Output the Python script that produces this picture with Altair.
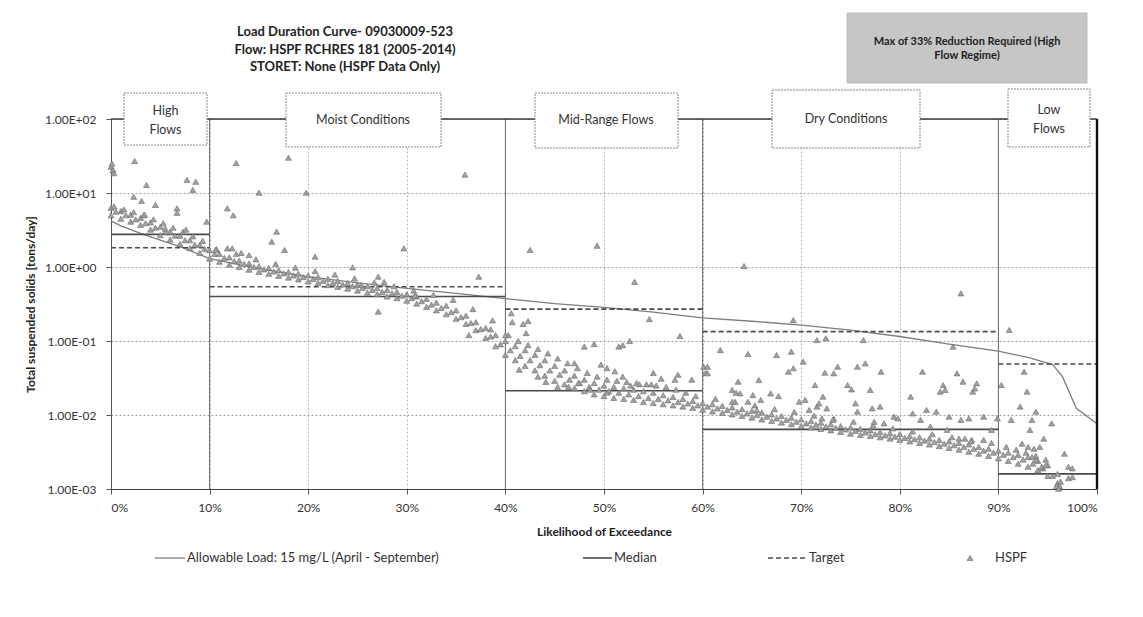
import altair as alt
import pandas as pd

# ---------------- text ----------------
title_lines = ["Load Duration Curve- 09030009-523",
               "Flow: HSPF RCHRES 181 (2005-2014)",
               "STORET: None (HSPF Data Only)"]
note_text = "Max of 33% Reduction Required (High\nFlow Regime)"
regime_names = ["High\nFlows", "Moist Conditions", "Mid-Range Flows", "Dry Conditions", "Low\nFlows"]
legend_labels = ["Allowable Load: 15 mg/L (April - September)", "Median", "Target", "HSPF"]
x_title = "Likelihood of Exceedance"
y_title = "Total suspended solids [tons/day]"

# ---------------- regimes ----------------
regime_start = [0, 10, 40, 60, 90]
regime_end = [10, 40, 60, 90, 100]
median_vals = [2.76, 0.40, 0.0213, 0.0064, 0.0016]
target_vals = [1.82, 0.54, 0.27, 0.134, 0.049]
boundaries = [10, 40, 60, 90]

# ---------------- allowable load curve ----------------
allow_x = [0, 1, 3, 5, 7, 10, 15, 20, 25, 30, 35, 40, 45, 50, 55, 60, 65, 70, 75, 80,
           85, 90, 93, 95.5, 96.5, 97.9, 100]
allow_y = [4.2, 3.6, 2.85, 2.3, 1.88, 1.3, 0.95, 0.74, 0.61, 0.515, 0.44, 0.375, 0.32, 0.285,
           0.245, 0.206, 0.185, 0.164, 0.14, 0.115, 0.091, 0.073, 0.060, 0.048, 0.033, 0.0123, 0.0076]

# ---------------- HSPF: dense band ----------------
band_x = [0, 1, 2, 3, 4, 5, 6, 7, 8, 9,
          10, 11, 12, 13, 14, 15, 16, 17, 18, 19,
          20, 21, 22, 23, 24, 25, 26, 27, 28, 29,
          30, 31, 32, 33, 34, 35, 36, 37, 38, 39,
          40, 41, 42, 43, 44, 45, 46, 47, 48, 49,
          50, 51, 52, 53, 54, 55, 56, 57, 58, 59,
          60, 61, 62, 63, 64, 65, 66, 67, 68, 69,
          70, 71, 72, 73, 74, 75, 76, 77, 78, 79,
          80, 81, 82, 83, 84, 85, 86, 87, 88, 89,
          90, 91, 92, 93, 94, 95, 96]
band_hi = [6.3, 5.7, 5.1, 4.6, 4.0, 3.5, 3.0, 2.65, 2.3, 2.0,
           1.7, 1.5, 1.35, 1.22, 1.12, 1.03, 0.97, 0.91, 0.86, 0.81,
           0.77, 0.73, 0.69, 0.65, 0.61, 0.58, 0.55, 0.52, 0.49, 0.46,
           0.43, 0.40, 0.37, 0.33, 0.30, 0.26, 0.22, 0.18, 0.15, 0.12,
           0.10, 0.085, 0.075, 0.065, 0.055, 0.046, 0.040, 0.034, 0.030, 0.027,
           0.025, 0.024, 0.023, 0.022, 0.021, 0.020, 0.0185, 0.0175, 0.0165, 0.0155,
           0.0145, 0.014, 0.0133, 0.0127, 0.012, 0.0114, 0.0108, 0.0102, 0.0097, 0.0092,
           0.0087, 0.0083, 0.0079, 0.0075, 0.0071, 0.0068, 0.0065, 0.0062, 0.0059, 0.0057,
           0.0055, 0.0052, 0.0050, 0.0048, 0.0046, 0.0044, 0.0042, 0.0040, 0.0037, 0.0035,
           0.0033, 0.0031, 0.0029, 0.0027, 0.0024, 0.0021, 0.0016]
band_lo = [5.0, 4.5, 4.1, 3.7, 3.2, 2.7, 2.35, 2.05, 1.8, 1.55,
           1.3, 1.18, 1.08, 1.0, 0.92, 0.86, 0.81, 0.76, 0.72, 0.68,
           0.64, 0.61, 0.57, 0.54, 0.51, 0.48, 0.45, 0.43, 0.40, 0.38,
           0.35, 0.32, 0.29, 0.26, 0.23, 0.20, 0.17, 0.14, 0.11, 0.085,
           0.065, 0.055, 0.046, 0.040, 0.034, 0.029, 0.026, 0.023, 0.021, 0.019,
           0.018, 0.017, 0.0165, 0.016, 0.015, 0.0145, 0.014, 0.0135, 0.013, 0.0125,
           0.0118, 0.0112, 0.0107, 0.0102, 0.0097, 0.0092, 0.0087, 0.0083, 0.0079, 0.0075,
           0.0071, 0.0068, 0.0065, 0.0062, 0.0059, 0.0056, 0.0054, 0.0052, 0.0050, 0.0048,
           0.0046, 0.0044, 0.0042, 0.0040, 0.0038, 0.0036, 0.0034, 0.0032, 0.0030, 0.0028,
           0.0026, 0.0024, 0.0022, 0.0020, 0.0018, 0.0015, 0.0012]
band_mid_x = [0.5, 1.5, 2.5, 3.5, 4.5, 5.5, 6.5, 7.5, 8.5, 9.5,
              10.5, 11.5, 12.5, 13.5, 14.5, 15.5, 16.5, 17.5, 18.5, 19.5,
              20.5, 21.5, 22.5, 23.5, 24.5, 25.5, 26.5, 27.5, 28.5, 29.5,
              30.5, 31.5, 32.5, 33.5, 34.5, 35.5, 36.5, 37.5, 38.5, 39.5,
              40.5, 41.5, 42.5, 43.5, 44.5, 45.5, 46.5, 47.5, 48.5, 49.5,
              50.5, 51.5, 52.5, 53.5, 54.5, 55.5, 56.5, 57.5, 58.5, 59.5,
              60.5, 61.5, 62.5, 63.5, 64.5, 65.5, 66.5, 67.5, 68.5, 69.5,
              70.5, 71.5, 72.5, 73.5, 74.5, 75.5, 76.5, 77.5, 78.5, 79.5,
              80.5, 81.5, 82.5, 83.5, 84.5, 85.5, 86.5, 87.5, 88.5, 89.5,
              90.5, 91.5, 92.5, 93.5, 94.5, 95.5, 96.2]
band_mid = [5.6, 5.0, 4.4, 3.9, 3.4, 3.0, 2.65, 2.3, 2.0, 1.75,
            1.5, 1.33, 1.2, 1.1, 1.0, 0.93, 0.87, 0.82, 0.77, 0.73,
            0.69, 0.65, 0.61, 0.58, 0.55, 0.52, 0.49, 0.46, 0.44, 0.41,
            0.38, 0.345, 0.31, 0.28, 0.245, 0.21, 0.175, 0.145, 0.115, 0.09,
            0.075, 0.063, 0.055, 0.047, 0.040, 0.035, 0.030, 0.027, 0.024, 0.022,
            0.021, 0.020, 0.019, 0.018, 0.017, 0.0165, 0.0158, 0.015, 0.0143, 0.0135,
            0.013, 0.0123, 0.0117, 0.0111, 0.0105, 0.010, 0.0095, 0.009, 0.0086, 0.0081,
            0.0077, 0.0074, 0.007, 0.0067, 0.0064, 0.0061, 0.0058, 0.0055, 0.0053, 0.0051,
            0.0049, 0.0047, 0.0045, 0.0043, 0.0041, 0.0039, 0.0037, 0.0035, 0.0033, 0.0031,
            0.0029, 0.0027, 0.0025, 0.0022, 0.0019, 0.0015, 0.0011]
# second, looser row of days hugging the upper edge of the band
band_up_x = [0.3, 1.3, 2.3, 3.3, 4.3, 5.3, 6.3, 7.3, 8.3, 9.3,
             10.7, 12.7, 14.7, 16.7, 18.7, 20.7, 22.7, 24.7, 26.7, 28.7,
             30.7, 32.7, 34.7, 36.7, 38.7, 40.3, 41.3, 42.3, 43.3, 44.3,
             45.3, 46.3, 47.3, 48.3, 49.3, 50.3, 51.3, 52.3, 53.3, 54.3,
             55.3, 56.3, 57.3, 58.3, 59.3, 61.3, 63.3, 65.3, 67.3, 69.3,
             71.3, 73.3, 75.3, 77.3, 79.3, 81.3, 83.3, 85.3, 87.3, 89.3,
             90.8, 91.8, 92.8, 93.8, 94.8]
band_up = [6.6, 6.0, 5.5, 5.0, 4.4, 3.9, 3.4, 3.0, 2.6, 2.25,
           1.75, 1.5, 1.27, 1.1, 0.98, 0.88, 0.79, 0.7, 0.62, 0.55,
           0.48, 0.42, 0.36, 0.27, 0.19, 0.12, 0.1, 0.088, 0.078, 0.068,
           0.058, 0.05, 0.043, 0.037, 0.033, 0.03, 0.029, 0.028, 0.027, 0.026,
           0.025, 0.024, 0.022, 0.02, 0.018, 0.0165, 0.015, 0.0135, 0.012, 0.011,
           0.0098, 0.0089, 0.0081, 0.0073, 0.0066, 0.006, 0.0055, 0.005, 0.0046, 0.0042,
           0.0037, 0.0034, 0.0031, 0.0028, 0.0025]

# ---------------- HSPF: scattered days ----------------
high_x = [0.0, 0.1, 0.2, 0.3, 2.4, 3.6, 2.3, 3.1, 4.5, 3.4, 6.7, 6.7, 7.7, 8.6, 8.3, 9.7, 5.5, 7.6]
high_y = [22.7, 25.0, 20.5, 18.5, 27.0, 12.8, 8.9, 7.8, 6.9, 5.1, 6.2, 5.4, 15.0, 14.2, 11.0, 4.1, 3.3, 3.2]

moist_x = [12.7, 18.0, 35.9, 11.8, 12.4, 15.0, 19.8, 16.8, 16.3, 17.6, 20.7, 24.5, 27.1, 27.7,
           29.7, 37.3, 25.4, 30.8, 27.1, 38.5, 36.3, 11.8, 12.3, 10.6, 13.2, 14.0]
moist_y = [25.4, 30.0, 17.7, 6.2, 5.0, 10.1, 10.1, 3.0, 2.2, 1.7, 1.38, 0.99, 0.74, 0.63,
           1.79, 0.74, 0.57, 0.41, 0.25, 0.144, 0.12, 1.79, 1.79, 1.7, 1.55, 1.45]

mid_x = [40.0, 40.6, 40.7, 41.8, 42.3, 42.1, 42.5, 49.3, 53.1, 54.6, 57.7, 48.0, 49.0, 47.0,
         49.7, 50.3, 51.1, 51.9, 51.5, 51.9, 52.6, 55.0, 55.8, 57.5, 58.9, 60.1, 60.3, 41.4,
         43.3, 44.1, 45.3, 46.4, 47.4, 48.6, 50.3, 52.7, 53.6, 54.8, 57.2]
mid_y = [0.120, 0.237, 0.18, 0.17, 0.186, 0.128, 1.70, 1.94, 0.63, 0.198, 0.117, 0.084, 0.091, 0.050,
         0.048, 0.043, 0.039, 0.033, 0.084, 0.088, 0.10, 0.037, 0.031, 0.035, 0.030, 0.045, 0.037, 0.041,
         0.033, 0.028, 0.024, 0.024, 0.027, 0.022, 0.020, 0.025, 0.026, 0.026, 0.030]

dry_x = [61.8, 60.5, 60.5, 63.6, 64.6, 63.0, 63.4, 63.8, 65.1, 65.7, 65.9, 64.6, 63.0, 65.5,
         66.9, 67.7, 67.5, 69.0, 68.7, 69.2, 70.2, 69.8, 70.4, 70.8, 71.4, 71.6, 71.8, 72.2,
         72.6, 72.1, 73.2, 72.4, 73.3, 73.7, 71.6, 72.5, 69.2, 64.2, 74.7, 75.1, 75.7, 76.5,
         77.0, 75.5, 75.7, 77.2, 78.0, 78.1, 76.3, 77.4, 78.4, 79.4, 79.8, 81.1, 81.3, 82.3,
         82.1, 82.7, 83.1, 83.7, 84.4, 84.6, 84.1, 85.0, 85.4, 85.8, 86.4, 86.2, 87.0, 87.4,
         87.8, 87.6, 88.5, 86.2, 84.8, 86.0, 86.6, 87.2, 88.5, 89.3, 89.9]
dry_y = [0.0755, 0.045, 0.0366, 0.0282, 0.0668, 0.0218, 0.020, 0.0196, 0.0186, 0.0297, 0.016, 0.0151, 0.0151, 0.0117,
         0.0196, 0.018, 0.0646, 0.0717, 0.0385, 0.0428, 0.0526, 0.0151, 0.016, 0.0117, 0.0254, 0.013, 0.0144, 0.0177,
         0.0123, 0.009, 0.0086, 0.0373, 0.0366, 0.045, 0.103, 0.109, 0.192, 1.03, 0.0254, 0.0222, 0.045, 0.0499,
         0.0218, 0.0144, 0.0111, 0.0123, 0.013, 0.0385, 0.103, 0.0081, 0.0077, 0.0095, 0.009, 0.0177, 0.0105, 0.0385,
         0.0086, 0.0117, 0.007, 0.0111, 0.0254, 0.0218, 0.0207, 0.0095, 0.084, 0.0366, 0.0282, 0.0086, 0.009, 0.0207,
         0.0268, 0.0229, 0.0095, 0.44, 0.0063, 0.0048, 0.0048, 0.0044, 0.0046, 0.0063, 0.009]

low_x = [90.3, 91.1, 91.3, 92.2, 92.6, 92.9, 93.2, 93.4, 93.8, 92.4, 93.0, 93.6, 94.2, 94.6,
         95.4, 93.4, 93.8, 94.4, 94.8, 96.7, 97.1, 97.5, 97.1, 97.5, 96.3, 95.9, 96.1]
low_y = [0.0254, 0.141, 0.0086, 0.013, 0.0385, 0.0207, 0.0063, 0.0086, 0.0111, 0.0041, 0.0037, 0.0035, 0.0037, 0.0048,
         0.0077, 0.0027, 0.0025, 0.002, 0.0021, 0.003, 0.002, 0.0019, 0.0014, 0.00145, 0.00126, 0.0011, 0.00101]

x_ticks = [0, 10, 20, 30, 40, 50, 60, 70, 80, 90, 100]
y_ticks = [0.001, 0.01, 0.1, 1, 10, 100]

# ---------------- tables ----------------
hspf_df = pd.concat([
    pd.DataFrame({"pct": band_x, "val": band_hi}),
    pd.DataFrame({"pct": band_x, "val": band_lo}),
    pd.DataFrame({"pct": band_mid_x, "val": band_mid}),
    pd.DataFrame({"pct": band_up_x, "val": band_up}),
    pd.DataFrame({"pct": high_x, "val": high_y}),
    pd.DataFrame({"pct": moist_x, "val": moist_y}),
    pd.DataFrame({"pct": mid_x, "val": mid_y}),
    pd.DataFrame({"pct": dry_x, "val": dry_y}),
    pd.DataFrame({"pct": low_x, "val": low_y}),
], ignore_index=True)
allow_df = pd.DataFrame({"pct": allow_x, "val": allow_y})
reg_df = pd.DataFrame({"start": regime_start, "end": regime_end,
                       "median": median_vals, "target": target_vals})
bound_df = pd.DataFrame({"pct": boundaries})
one = pd.DataFrame({"k": [0]})

FONT = "Lato"
xs = alt.Scale(domain=[0, 100], nice=False, zero=False)
ys = alt.Scale(type="log", domain=[0.001, 100], nice=False)

xaxis = alt.Axis(values=x_ticks, labelExpr="datum.value + '%'", title=x_title,
                 titleFont=FONT, titleFontSize=12, titleFontWeight="bold", titleColor="#222",
                 titleBaseline="middle", titleY=42,
                 labelFont=FONT, labelFontSize=12, labelColor="#333", labelPadding=8,
                 tickSize=5, tickColor="#555", domainColor="#444", domainWidth=1.2,
                 grid=True, gridColor="#b5b5b5", gridDash=[2, 2], gridWidth=1)
yaxis = alt.Axis(values=y_ticks,
                 labelExpr="'1.00E' + (datum.value >= 1 ? '+' : '-') + '0' + format(abs(round(log(datum.value) / LN10)), 'd')",
                 title=y_title, titleFont=FONT, titleFontSize=12, titleFontWeight="bold",
                 titleColor="#222", titleAngle=270, titleX=-81, titleY=185,
                 titleAlign="center", titleBaseline="middle",
                 labelFont=FONT, labelFontSize=12, labelColor="#333", labelPadding=10,
                 tickSize=5, tickColor="#555", domainColor="#555",
                 grid=True, gridColor="#a0a0a0", gridDash=[2, 2], gridWidth=1)


def X(f):
    return alt.X(f, type="quantitative", scale=xs, axis=xaxis)


def Y(f):
    return alt.Y(f, type="quantitative", scale=ys, axis=yaxis)


GRAY_PT = dict(shape="triangle-up", filled=True, size=36, fill="#a2a2a2",
               stroke="#6a6a6a", strokeWidth=0.6, opacity=1)

bounds = alt.Chart(bound_df).mark_rule(color="#6a6a6a", strokeWidth=1).encode(
    x=X("pct"), y=alt.Y(datum=100, scale=ys, axis=yaxis), y2=alt.Y2(datum=0.001))

allow = alt.Chart(allow_df).mark_line(color="#7d7d7d", strokeWidth=1.3).encode(
    x=X("pct"), y=Y("val"))

median = alt.Chart(reg_df).mark_rule(color="#4a4a4a", strokeWidth=1.6).encode(
    x=X("start"), x2="end", y=Y("median"))

target = alt.Chart(reg_df).mark_rule(color="#4a4a4a", strokeWidth=1.6, strokeDash=[5, 3]).encode(
    x=X("start"), x2="end", y=Y("target"))

pts = alt.Chart(hspf_df).mark_point(**GRAY_PT).encode(x=X("pct"), y=Y("val"))

top_line = alt.Chart(one).mark_rule(color="#3a3a3a", strokeWidth=1.3).encode(
    x=alt.X(datum=0, scale=xs, axis=xaxis), x2=alt.X2(datum=100),
    y=alt.Y(datum=100, scale=ys, axis=yaxis))
right_line = alt.Chart(one).mark_rule(color="#111", strokeWidth=2.4).encode(
    x=alt.X(datum=100, scale=xs, axis=xaxis),
    y=alt.Y(datum=100, scale=ys, axis=yaxis), y2=alt.Y2(datum=0.001))

layers = [bounds, allow, median, target, pts, top_line, right_line]

# regime boxes (pixel layout relative to the plot area); text y = first line
box_layout = [(13, 96, -26, 26, 54.5, -8),
              (175, 330, -26, 28, 252, 1),
              (424, 567, -26, 29, 495, 1),
              (661, 809, -29, 29, 735, 0),
              (897, 979, -30, 28, 938, -9)]
for name, (bx1, bx2, by1, by2, tx, ty) in zip(regime_names, box_layout):
    layers.append(alt.Chart(one).mark_rect(fill="white", stroke="#8a8a8a", strokeWidth=1,
                                           strokeDash=[2, 1]).encode(
        x=alt.value(bx1), x2=alt.value(bx2), y=alt.value(by1), y2=alt.value(by2)))
    layers.append(alt.Chart(one).mark_text(font=FONT, fontSize=12.5, color="#333",
                                           lineBreak="\n", lineHeight=19,
                                           align="center", baseline="middle").encode(
        x=alt.value(tx), y=alt.value(ty), text=alt.value(name)))

# gray note box
layers.append(alt.Chart(one).mark_rect(fill="#c6c6c6", stroke="#bdbdbd").encode(
    x=alt.value(736), x2=alt.value(976), y=alt.value(-106), y2=alt.value(-36)))
layers.append(alt.Chart(one).mark_text(font=FONT, fontSize=11, fontWeight="bold", color="#222",
                                       lineBreak="\n", lineHeight=14,
                                       align="center", baseline="middle").encode(
    x=alt.value(856), y=alt.value(-77), text=alt.value(note_text)))

# title
layers.append(alt.Chart(one).mark_text(font=FONT, fontSize=13, fontWeight="bold", color="#222",
                                       lineBreak="\n", lineHeight=17.5,
                                       align="center", baseline="middle").encode(
    x=alt.value(234), y=alt.value(-87), text=alt.value("\n".join(title_lines))))

# outer frame lines of the scanned figure
layers.append(alt.Chart(one).mark_rule(color="#c4c4c4", strokeDash=[2, 2]).encode(
    x=alt.value(-108), x2=alt.value(1029), y=alt.value(-116)))
layers.append(alt.Chart(one).mark_rule(color="#c4c4c4").encode(
    x=alt.value(-108), y=alt.value(-116), y2=alt.value(490)))

# legend
LY = 439
layers.append(alt.Chart(one).mark_rule(color="#7d7d7d", strokeWidth=1.3).encode(
    x=alt.value(44), x2=alt.value(74), y=alt.value(LY)))
layers.append(alt.Chart(one).mark_rule(color="#4a4a4a", strokeWidth=1.6).encode(
    x=alt.value(472), x2=alt.value(501), y=alt.value(LY)))
layers.append(alt.Chart(one).mark_rule(color="#4a4a4a", strokeWidth=1.6, strokeDash=[5, 3]).encode(
    x=alt.value(657), x2=alt.value(696), y=alt.value(LY)))
layers.append(alt.Chart(one).mark_point(**GRAY_PT).encode(x=alt.value(859), y=alt.value(LY)))
for lx, lab in zip([76, 503, 698, 884], legend_labels):
    layers.append(alt.Chart(one).mark_text(font=FONT, fontSize=13, color="#333",
                                           align="left", baseline="middle").encode(
        x=alt.value(lx), y=alt.value(LY), text=alt.value(lab)))

chart = alt.layer(*layers).properties(
    width=986, height=370,
    autosize=alt.AutoSizeParams(type="none"),
    padding={"left": 103, "top": 111, "right": 38, "bottom": 90},
    background="white",
).configure_view(stroke=None)

chart.save("out.html", embed_options={"renderer": "svg", "actions": False})
